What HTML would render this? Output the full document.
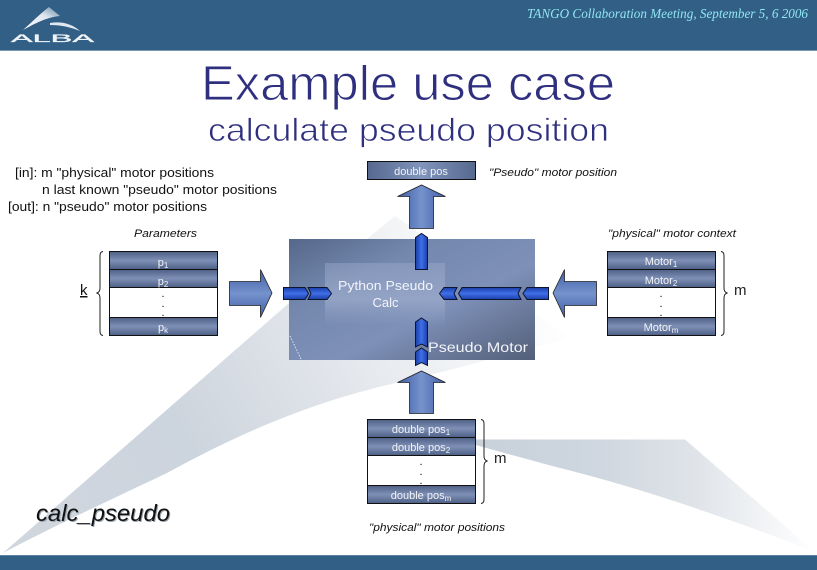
<!DOCTYPE html>
<html><head><meta charset="utf-8"><style>
html,body{margin:0;padding:0;background:#fff;width:817px;height:570px;overflow:hidden}
svg{display:block}
text{font-family:"Liberation Sans",sans-serif}
</style></head><body>
<svg width="817" height="570" viewBox="0 0 817 570" xmlns="http://www.w3.org/2000/svg">
<defs>
<linearGradient id="row" x1="0" y1="0" x2="0" y2="1"><stop offset="0" stop-color="#4d5f85"/><stop offset=".5" stop-color="#7f90b6"/><stop offset="1" stop-color="#4d5f85"/></linearGradient>
<linearGradient id="row2" x1="0" y1="0" x2="1" y2="0"><stop offset="0" stop-color="#56688e"/><stop offset=".5" stop-color="#8094bc"/><stop offset="1" stop-color="#56688e"/></linearGradient>
<linearGradient id="bigV" x1="0" y1="0" x2="1" y2="0"><stop offset="0" stop-color="#3f5ea6"/><stop offset=".5" stop-color="#7592cc"/><stop offset="1" stop-color="#3f5ea6"/></linearGradient>
<linearGradient id="bigH" x1="0" y1="0" x2="0" y2="1"><stop offset="0" stop-color="#3f5ea6"/><stop offset=".5" stop-color="#7592cc"/><stop offset="1" stop-color="#3f5ea6"/></linearGradient>
<linearGradient id="blueH" x1="0" y1="0" x2="0" y2="1"><stop offset="0" stop-color="#1b3fa8"/><stop offset=".5" stop-color="#3f6fe8"/><stop offset="1" stop-color="#1b3fa8"/></linearGradient>
<linearGradient id="blueV" x1="0" y1="0" x2="1" y2="0"><stop offset="0" stop-color="#1b3fa8"/><stop offset=".5" stop-color="#3f6fe8"/><stop offset="1" stop-color="#1b3fa8"/></linearGradient>
<linearGradient id="pm" x1="0" y1="0" x2="1" y2="1"><stop offset="0" stop-color="#55688a"/><stop offset=".3" stop-color="#7488ae"/><stop offset=".6" stop-color="#7e90b8"/><stop offset="1" stop-color="#535f78"/></linearGradient>
<linearGradient id="inner" x1="0" y1="0" x2="0" y2="1"><stop offset="0" stop-color="#9aa9cb" stop-opacity=".45"/><stop offset=".6" stop-color="#a5b3d2" stop-opacity=".6"/><stop offset="1" stop-color="#9aa9cb" stop-opacity=".05"/></linearGradient>
<linearGradient id="sw1" gradientUnits="userSpaceOnUse" x1="40" y1="530" x2="540" y2="260"><stop offset="0" stop-color="#d0d6de"/><stop offset=".3" stop-color="#ccd4dd"/><stop offset=".55" stop-color="#dfe3e9"/><stop offset=".8" stop-color="#f2f4f6"/><stop offset="1" stop-color="#ffffff"/></linearGradient>
<linearGradient id="sw2" gradientUnits="userSpaceOnUse" x1="476" y1="0" x2="815" y2="0"><stop offset="0" stop-color="#c8d0da"/><stop offset=".35" stop-color="#ced6df"/><stop offset=".65" stop-color="#e0e4e9"/><stop offset="1" stop-color="#ffffff"/></linearGradient>
<linearGradient id="lg" x1="0" y1="1" x2="1" y2="0"><stop offset="0" stop-color="#fff"/><stop offset=".6" stop-color="#dfe6ee"/><stop offset="1" stop-color="#5f84a6"/></linearGradient>
</defs>

<rect width="817" height="570" fill="#fff"/>
<path d="M3 553 L289 303 L367 239 L395 216 L570 338 C520 350 470 366 400 382 C330 398 260 422 167 473 C110 500 50 528 3 553Z" fill="url(#sw1)"/>
<path d="M476 439.500 L685 439.500 L815 552 C760 530 650 490 560 468 C530 460 500 452 476 445Z" fill="url(#sw2)"/>

<rect width="817" height="50.500" fill="#325f85"/>
<rect y="50" width="817" height="1" fill="#7d97ad"/>
<rect y="555" width="817" height="15" fill="#325f85"/>
<rect y="555" width="817" height="1" fill="#5f82a0"/>

<path d="M23 30 C32 22 42 12 49 7 L60 16 C47 17 34 24 23 30Z" fill="url(#lg)"/>
<path d="M50 23 C62 21 72 24 80 31 C70 27 61 25 50 25Z" fill="#dfe8f0"/>
<text x="11" y="42" font-size="11" fill="#eef3f7" stroke="#eef3f7" stroke-width=".3" textLength="83" lengthAdjust="spacingAndGlyphs">ALBA</text>
<text x="527" y="18" style="font-family:'Liberation Serif',serif" font-style="italic" font-size="14" fill="#8fe6f4" textLength="281" lengthAdjust="spacingAndGlyphs">TANGO Collaboration Meeting, September 5, 6 2006</text>

<text x="201" y="100" font-size="49" fill="#2f2f80" stroke="#fff" stroke-width="1" textLength="414" lengthAdjust="spacingAndGlyphs">Example use case</text>
<text x="208" y="141" font-size="32" fill="#2f2f80" stroke="#fff" stroke-width=".7" textLength="401" lengthAdjust="spacingAndGlyphs">calculate pseudo position</text>

<g font-size="12.500" fill="#111">
<text x="15" y="177" textLength="199" lengthAdjust="spacingAndGlyphs">[in]: m "physical" motor positions</text>
<text x="42" y="194" textLength="235" lengthAdjust="spacingAndGlyphs">n last known "pseudo" motor positions</text>
<text x="8" y="211" textLength="199" lengthAdjust="spacingAndGlyphs">[out]: n "pseudo" motor positions</text>
</g>
<g font-size="11" font-style="italic" fill="#111">
<text x="134" y="237" textLength="63" lengthAdjust="spacingAndGlyphs">Parameters</text>
<text x="608" y="237" textLength="128" lengthAdjust="spacingAndGlyphs">"physical" motor context</text>
<text x="489" y="176" textLength="128" lengthAdjust="spacingAndGlyphs">"Pseudo" motor position</text>
<text x="369" y="531" textLength="136" lengthAdjust="spacingAndGlyphs">"physical" motor positions</text>
</g>

<g stroke="#111" stroke-width="1">
<rect x="109.500" y="251.500" width="108" height="18" fill="url(#row)"/>
<rect x="109.500" y="269.500" width="108" height="18" fill="url(#row)"/>
<rect x="109.500" y="287.500" width="108" height="30" fill="#fff"/>
<rect x="109.500" y="317.500" width="108" height="18" fill="url(#row)"/>
<rect x="607.500" y="251.500" width="108" height="18" fill="url(#row)"/>
<rect x="607.500" y="269.500" width="108" height="18" fill="url(#row)"/>
<rect x="607.500" y="287.500" width="108" height="30" fill="#fff"/>
<rect x="607.500" y="317.500" width="108" height="18" fill="url(#row)"/>
<rect x="367.500" y="419.500" width="108" height="18" fill="url(#row)"/>
<rect x="367.500" y="437.500" width="108" height="18" fill="url(#row)"/>
<rect x="367.500" y="455.500" width="108" height="30" fill="#fff"/>
<rect x="367.500" y="485.500" width="108" height="18" fill="url(#row)"/>
<rect x="367.500" y="161.500" width="108" height="18" fill="url(#row2)"/>
</g>
<g fill="#f2f4f8" font-size="11" text-anchor="middle">
<text x="163" y="266">p<tspan font-size="8" dy="2">1</tspan></text>
<text x="163" y="285">p<tspan font-size="8" dy="2">2</tspan></text>
<text x="163" y="331">p<tspan font-size="8" dy="2">k</tspan></text>
<text x="661" y="265">Motor<tspan font-size="8" dy="2">1</tspan></text>
<text x="661" y="284">Motor<tspan font-size="8" dy="2">2</tspan></text>
<text x="661" y="331">Motor<tspan font-size="8" dy="2">m</tspan></text>
<text x="421" y="433">double pos<tspan font-size="8" dy="2">1</tspan></text>
<text x="421" y="451">double pos<tspan font-size="8" dy="2">2</tspan></text>
<text x="421" y="499">double pos<tspan font-size="8" dy="2">m</tspan></text>
<text x="421" y="175">double pos</text>
</g>
<g fill="#111" font-size="11" text-anchor="middle">
<text x="163" y="297">.</text><text x="163" y="307">.</text><text x="163" y="316">.</text>
<text x="661" y="297">.</text><text x="661" y="307">.</text><text x="661" y="316">.</text>
<text x="421" y="465">.</text><text x="421" y="475">.</text><text x="421" y="484">.</text>
</g>

<g fill="none" stroke="#222" stroke-width="1">
<path d="M103 251.500 C100 252 100 254 100 257 L100 288 C100 291 99 292 97 293 C99 294 100 295 100 298 L100 330 C100 333 100 335 103 335.500"/>
<path d="M721 251.500 C724 252 724 254 724 257 L724 288 C724 291 725 292 727 293 C725 294 724 295 724 298 L724 330 C724 333 724 335 721 335.500"/>
<path d="M481 419.500 C484 420 484 422 484 425 L484 456 C484 459 485 460 487 461 C485 462 484 463 484 466 L484 498 C484 501 484 503 481 503.500"/>
</g>
<text x="80" y="295" font-size="15" fill="#111" text-decoration="underline">k</text>
<text x="734" y="295" font-size="15" fill="#222">m</text>
<text x="494" y="463" font-size="15" fill="#222">m</text>

<rect x="289" y="239" width="246" height="121" fill="url(#pm)"/>
<rect x="325" y="263" width="120" height="61" fill="url(#inner)"/>
<path d="M290 336 L301 359" stroke="#dfe5ef" stroke-width="1" stroke-dasharray="1.500 1.500" fill="none"/>

<g stroke="#222" stroke-width=".8">
<path d="M229.500 281.500 H260.500 V269.500 L272 293 L260.500 317.500 V305.500 H229.500Z" fill="url(#bigH)"/>
<path d="M596.500 281.500 H564.500 V269.500 L553 293 L564.500 317.500 V305.500 H596.500Z" fill="url(#bigH)"/>
<path d="M409.500 228.500 V196.500 H397.500 L421.500 185 L445.500 196.500 H433.500 V228.500Z" fill="url(#bigV)"/>
<path d="M409.500 413.500 V382.500 H397.500 L421.500 371 L445.500 382.500 H433.500 V413.500Z" fill="url(#bigV)"/>
</g>

<g stroke="#0c1430" stroke-width="1">
<path d="M283.500 287.500 H305 L308.500 293.500 L305 299.500 H283.500Z" fill="url(#blueH)"/>
<path d="M308 287.500 H327 L331.500 293.500 L327 299.500 H308 L311 293.500Z" fill="url(#blueH)"/>
<path d="M548.500 287.500 H527 L523 293.500 L527 299.500 H548.500Z" fill="url(#blueH)"/>
<path d="M521 287.500 H462 L458.500 293.500 L462 299.500 H521 L518 293.500Z" fill="url(#blueH)"/>
<path d="M457 287.500 H444 L439.500 293.500 L444 299.500 H457 L454 293.500Z" fill="url(#blueH)"/>
<path d="M415.500 269.500 V237.500 L421.500 233.500 L427.500 237.500 V269.500Z" fill="url(#blueV)"/>
<path d="M415.500 347 V322 L421.500 318 L427.500 322 V347 L421.500 344Z" fill="url(#blueV)"/>
<path d="M415.500 365.500 V352 L421.500 348 L427.500 352 V365.500 L421.500 362.500Z" fill="url(#blueV)"/>
</g>

<text x="385.500" y="290" font-size="13" fill="#f2f4fa" text-anchor="middle" textLength="95" lengthAdjust="spacingAndGlyphs">Python Pseudo</text>
<text x="385.500" y="307" font-size="13" fill="#f2f4fa" text-anchor="middle">Calc</text>
<text x="428" y="352" font-size="14" fill="#f2f4fa" textLength="100" lengthAdjust="spacingAndGlyphs">Pseudo Motor</text>

<text x="37" y="522" font-size="23" font-style="italic" fill="#9aa3ad" textLength="134" lengthAdjust="spacingAndGlyphs">calc_pseudo</text>
<text x="36" y="521" font-size="23" font-style="italic" fill="#111" textLength="134" lengthAdjust="spacingAndGlyphs">calc_pseudo</text>
</svg>
</body></html>
